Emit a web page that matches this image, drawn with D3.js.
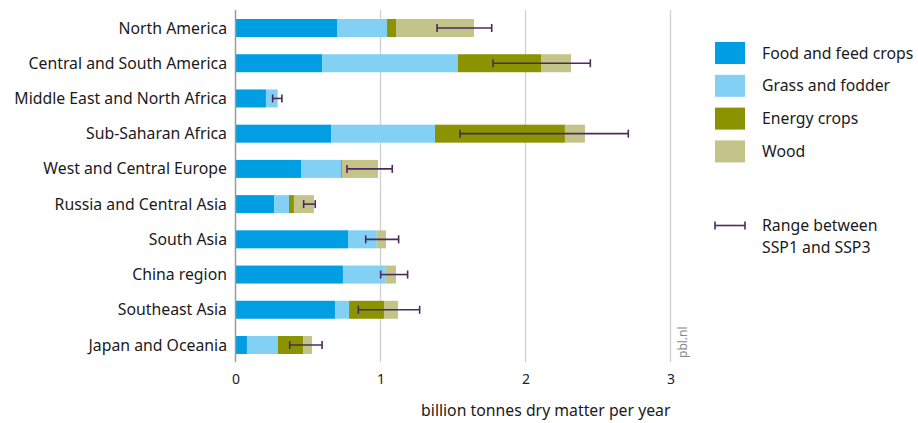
<!DOCTYPE html>
<html>
<head>
<meta charset="utf-8">
<script src="https://cdn.jsdelivr.net/npm/d3@7/dist/d3.min.js"></script>
<style>
  html, body { margin: 0; padding: 0; background: #fff; }
  svg { display: block; font-family: "Noto Sans", "Open Sans", sans-serif; }
</style>
</head>
<body>
<svg id="chart" width="918" height="423"></svg>
<script>
const regions = ["North America", "Central and South America", "Middle East and North Africa",
  "Sub-Saharan Africa", "West and Central Europe", "Russia and Central Asia", "South Asia",
  "China region", "Southeast Asia", "Japan and Oceania"];
const seriesNames = ["Food and feed crops", "Grass and fodder", "Energy crops", "Wood"];
const food   = [0.70, 0.597, 0.21, 0.659, 0.452, 0.266, 0.776, 0.741, 0.686, 0.079];
const grass  = [0.345, 0.937, 0.078, 0.717, 0.276, 0.103, 0.198, 0.292, 0.097, 0.214];
const energy = [0.062, 0.573, 0.0, 0.896, 0.006, 0.034, 0.0, 0.0, 0.241, 0.173];
const wood   = [0.538, 0.207, 0.004, 0.138, 0.249, 0.138, 0.064, 0.074, 0.097, 0.062];
const rangeLow  = [1.39, 1.776, 0.256, 1.548, 0.769, 0.47, 0.898, 1.001, 0.847, 0.374];
const rangeHigh = [1.767, 2.447, 0.32, 2.709, 1.081, 0.55, 1.125, 1.187, 1.27, 0.597];
const xTicks = [0, 1, 2, 3];
const colors = ["#009fe3", "#83d0f5", "#8c9300", "#c4c48a"];
const errColor = "#4b2a5e";

const svg = d3.select("#chart");
const x = d3.scaleLinear().domain([0, 3]).range([235.5, 670.5]);
const y = d3.scalePoint().domain(regions).range([10.4, 362.6]).padding(0.5);
const barH = 18;
const fs = 15.8;

// gridlines
svg.append("g").selectAll("line").data(xTicks.slice(1)).join("line")
  .attr("x1", d => x(d)).attr("x2", d => x(d))
  .attr("y1", 10).attr("y2", 362)
  .attr("stroke", "#d0d0d0").attr("stroke-width", 1.3);

// stacked data
const table = regions.map((r, i) => ({ region: r, s0: food[i], s1: grass[i], s2: energy[i], s3: wood[i] }));
const stack = d3.stack().keys(["s0", "s1", "s2", "s3"])(table);

svg.append("g").selectAll("g").data(stack).join("g")
  .attr("fill", (d, i) => colors[i])
  .selectAll("rect").data(d => d).join("rect")
  .attr("x", d => x(d[0]))
  .attr("width", d => Math.max(0, x(d[1]) - x(d[0])))
  .attr("y", d => y(d.data.region) - barH / 2)
  .attr("height", barH);

// axis line at 0
svg.append("line")
  .attr("x1", x(0)).attr("x2", x(0)).attr("y1", 10).attr("y2", 362)
  .attr("stroke", "#9a9a9a").attr("stroke-width", 1.5);

// x axis tick labels
const xAxis = d3.axisBottom(x).tickValues(xTicks).tickSize(0).tickPadding(0).tickFormat(d3.format("d"));
const gx = svg.append("g").attr("transform", "translate(0,374)").call(xAxis);
gx.select(".domain").remove();
gx.selectAll("text").attr("font-size", 14).attr("fill", "#222").attr("font-family", "'Noto Sans', sans-serif");

// y axis labels
const yAxis = d3.axisLeft(y).tickSize(0).tickPadding(0);
const gy = svg.append("g").attr("transform", "translate(227,0)").call(yAxis);
gy.select(".domain").remove();
gy.selectAll("text").attr("font-size", fs).attr("fill", "#1a1a1a").attr("font-family", "'Noto Sans', sans-serif");

// error bars
const eg = svg.append("g").attr("stroke", errColor).attr("stroke-width", 1.6);
regions.forEach((r, i) => {
  const cy = y(r);
  eg.append("line").attr("x1", x(rangeLow[i])).attr("x2", x(rangeHigh[i])).attr("y1", cy).attr("y2", cy);
  [rangeLow[i], rangeHigh[i]].forEach(v => {
    eg.append("line").attr("x1", x(v)).attr("x2", x(v)).attr("y1", cy - 4).attr("y2", cy + 4);
  });
});

// axis title
svg.append("text").attr("x", x(3)).attr("y", 416).attr("text-anchor", "end")
  .attr("font-size", fs).attr("fill", "#1a1a1a").text("billion tonnes dry matter per year");

// pbl.nl
svg.append("text").attr("transform", "translate(687,358) rotate(-90)")
  .attr("font-size", 12).attr("fill", "#8a8a8a").text("pbl.nl");

// legend
const lg = svg.append("g");
seriesNames.forEach((n, i) => {
  const ly = 42 + i * 32.8;
  lg.append("rect").attr("x", 715).attr("y", ly).attr("width", 30).attr("height", 22).attr("fill", colors[i]);
  lg.append("text").attr("x", 762).attr("y", ly + 11).attr("dy", "0.35em")
    .attr("font-size", fs).attr("fill", "#1a1a1a").text(n);
});
const ry = 225.5;
lg.append("line").attr("x1", 715).attr("x2", 745).attr("y1", ry).attr("y2", ry).attr("stroke", errColor).attr("stroke-width", 1.6);
[715, 745].forEach(v => lg.append("line").attr("x1", v).attr("x2", v).attr("y1", ry - 4).attr("y2", ry + 4).attr("stroke", errColor).attr("stroke-width", 1.6));
lg.append("text").attr("x", 762).attr("y", ry).attr("dy", "0.35em").attr("font-size", fs).attr("fill", "#1a1a1a").text("Range between");
lg.append("text").attr("x", 762).attr("y", ry + 22).attr("dy", "0.35em").attr("font-size", fs).attr("fill", "#1a1a1a").text("SSP1 and SSP3");
</script>
</body>
</html>
